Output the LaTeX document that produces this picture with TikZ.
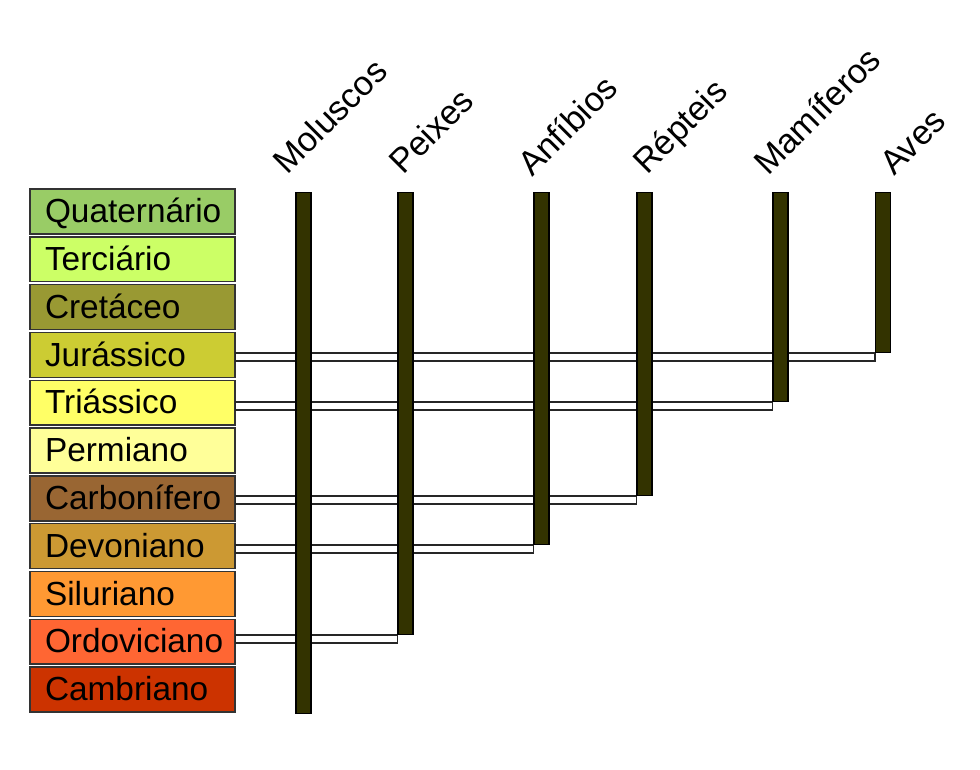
\documentclass[tikz,border=0pt]{standalone}
\usepackage{fontspec}
\setmainfont{Liberation Sans}
\usetikzlibrary{calc}
\definecolor{barc}{HTML}{333300}
\definecolor{cQua}{HTML}{99CC66}
\definecolor{cTer}{HTML}{CCFF66}
\definecolor{cCre}{HTML}{999933}
\definecolor{cJur}{HTML}{CCCC33}
\definecolor{cTri}{HTML}{FFFF66}
\definecolor{cPer}{HTML}{FFFF99}
\definecolor{cCar}{HTML}{996633}
\definecolor{cDev}{HTML}{CC9933}
\definecolor{cSil}{HTML}{FF9933}
\definecolor{cOrd}{HTML}{FF6633}
\definecolor{cCam}{HTML}{CC3300}
\begin{document}
\begin{tikzpicture}[x=0.02cm,y=-0.02cm,
  period/.style={draw=black!80, line width=0.8pt, rectangle, minimum width=4.1cm, minimum height=0.9cm,
    text width=3.5cm, align=left, inner xsep=0.3cm, inner ysep=0pt, text height=0.47cm, text depth=0.02cm,
    font=\fontsize{19}{23}\selectfont},
  bar/.style={draw=black, fill=barc, line width=0.6pt, rectangle, minimum width=0.3cm, inner sep=0pt, anchor=north},
  conn/.style={draw=black!85, fill=white, line width=0.8pt},
  lab/.style={rotate=45, anchor=base west, inner sep=0pt, font=\fontsize{19.5}{23}\selectfont}]
\useasboundingbox (0,0) rectangle (980,770);
% periods
\node[period, fill=cQua] (qua) at (132.5,211.5) {Quaternário};
\node[period, fill=cTer] (ter) at (132.5,259.3) {Terciário};
\node[period, fill=cCre] (cre) at (132.5,307.1) {Cretáceo};
\node[period, fill=cJur] (jur) at (132.5,354.9) {Jurássico};
\node[period, fill=cTri] (tri) at (132.5,402.7) {Triássico};
\node[period, fill=cPer] (per) at (132.5,450.5) {Permiano};
\node[period, fill=cCar] (car) at (132.5,498.3) {Carbonífero};
\node[period, fill=cDev] (dev) at (132.5,546.1) {Devoniano};
\node[period, fill=cSil] (sil) at (132.5,593.9) {Siluriano};
\node[period, fill=cOrd] (ord) at (132.5,641.7) {Ordoviciano};
\node[period, fill=cCam] (cam) at (132.5,689.5) {Cambriano};
% bar positions (invisible placement first for connectors)
\path (303.5,192) coordinate (tM) (405.5,192) coordinate (tP) (541.5,192) coordinate (tA)
      (644.5,192) coordinate (tR) (780.5,192) coordinate (tMa) (883,192) coordinate (tAv);
\path node[bar, draw=none, fill=none, minimum height=10.42cm] (bM) at (tM) {}
      node[bar, draw=none, fill=none, minimum height=8.84cm] (bP) at (tP) {}
      node[bar, draw=none, fill=none, minimum height=7.04cm] (bA) at (tA) {}
      node[bar, draw=none, fill=none, minimum height=6.06cm] (bR) at (tR) {}
      node[bar, draw=none, fill=none, minimum height=4.18cm] (bMa) at (tMa) {}
      node[bar, draw=none, fill=none, minimum height=3.2cm] (bAv) at (tAv) {};
% connectors
\draw[conn] (jur.east |- bAv.south) rectangle ($(bAv.south west)+(0,8)$);
\draw[conn] (tri.east |- bMa.south) rectangle ($(bMa.south west)+(0,8)$);
\draw[conn] (car.east |- bR.south) rectangle ($(bR.south west)+(0,8)$);
\draw[conn] (dev.east |- bA.south) rectangle ($(bA.south west)+(0,8)$);
\draw[conn] (ord.east |- bP.south) rectangle ($(bP.south west)+(0,8)$);
% bars drawn on top
\node[bar, minimum height=10.42cm] at (tM) {};
\node[bar, minimum height=8.84cm] at (tP) {};
\node[bar, minimum height=7.04cm] at (tA) {};
\node[bar, minimum height=6.06cm] at (tR) {};
\node[bar, minimum height=4.18cm] at (tMa) {};
\node[bar, minimum height=3.2cm] at (tAv) {};
% labels
\node[lab] (lM) at (287,176) {Moluscos};
\node[lab] (lP) at (403,176) {Peixes};
\node[lab] (lA) at (532,178) {Anfíbios};
\node[lab] (lR) at (647,176) {Répteis};
\node[lab] (lMa) at (768,177) {Mamíferos};
\node[lab] (lAv) at (894,177) {Aves};
\end{tikzpicture}
\end{document}
